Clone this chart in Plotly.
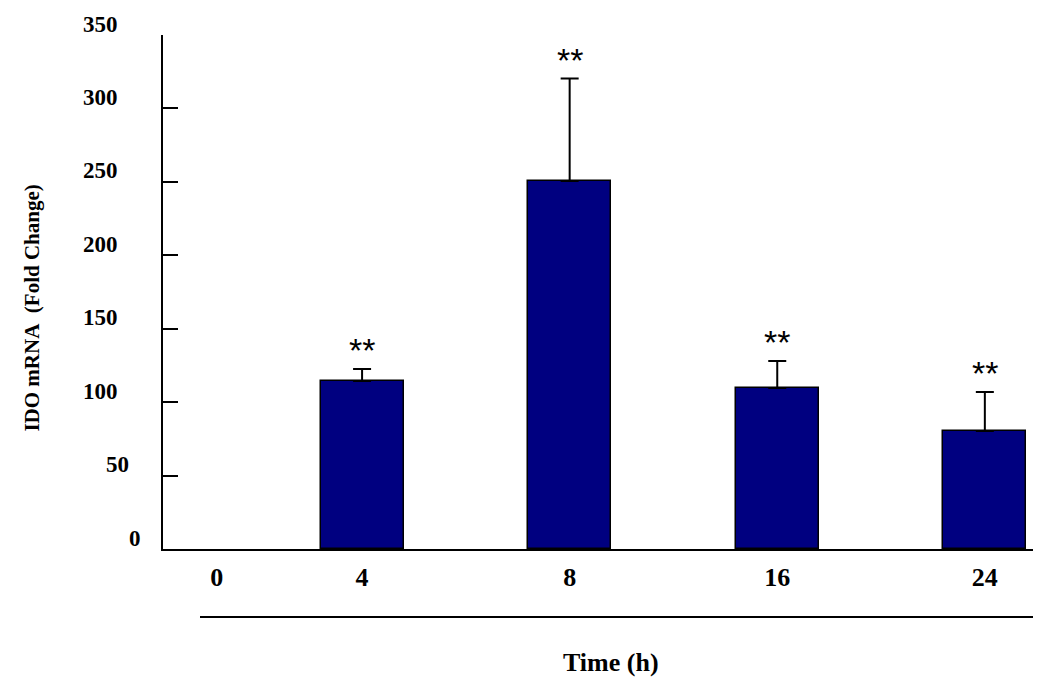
import plotly.graph_objects as go

# ---- data ----
time_labels = ["0", "4", "8", "16", "24"]          # x tick labels (h)
bar_times = ["4", "8", "16", "24"]                 # time points with bars
fold_change = [114.4, 250.6, 109.6, 80.4]          # mean IDO mRNA fold change
fold_error = [8.2, 69.7, 18.4, 26.5]               # upper error (SD/SEM)
significance = ["**", "**", "**", "**"]
y_ticks = [0, 50, 100, 150, 200, 250, 300, 350]

# layout positions (index on the x axis)
tick_pos = [0.3, 1, 2, 3, 4]
bar_pos = [tick_pos[time_labels.index(t)] for t in bar_times]

SERIF = "Liberation Serif, Times New Roman, serif"
SANS = "Liberation Sans, Arial, sans-serif"

fig = go.Figure()
fig.add_trace(go.Bar(
    x=bar_pos, y=fold_change, width=0.4,
    marker=dict(color="#000080", line=dict(color="#000000", width=1.5)),
    error_y=dict(type="data", symmetric=False, array=fold_error,
                 arrayminus=[0] * len(fold_error),
                 color="#000000", thickness=2, width=9),
    showlegend=False, hoverinfo="skip",
))

annotations = []
# significance markers
for xp, v, e, s in zip(bar_pos, fold_change, fold_error, significance):
    annotations.append(dict(x=xp, y=v + e, xref="x", yref="y", text=s,
                            showarrow=False, yanchor="middle", yshift=19,
                            font=dict(family=SANS, size=34, color="black")))

# y tick labels (right edge in px from the axis; slightly irregular like the original)
label_right_px = {0: 143, 50: 131}
for v in y_ticks:
    rp = label_right_px.get(v, 120)
    annotations.append(dict(x=(rp - 163) / 870, y=v, xref="paper", yref="y",
                            text="<b>%d</b>" % v, showarrow=False, xanchor="right",
                            yanchor="middle", yshift=11,
                            font=dict(family=SERIF, size=23, color="black")))

# axis titles
annotations.append(dict(x=-0.151, y=0.469, xref="paper", yref="paper",
                        text="<b>IDO mRNA\u00a0 (Fold Change)</b>", textangle=-90,
                        showarrow=False, xanchor="center", yanchor="middle",
                        font=dict(family=SERIF, size=21, color="black")))
annotations.append(dict(x=0.515, y=-0.22, xref="paper", yref="paper",
                        text="<b>Time (h)</b>", showarrow=False,
                        xanchor="center", yanchor="middle",
                        font=dict(family=SERIF, size=26, color="black")))

fig.update_layout(
    width=1050, height=688,
    margin=dict(l=155, r=25, t=27, b=147),
    paper_bgcolor="white", plot_bgcolor="white",
    annotations=annotations,
    shapes=[dict(type="line", xref="paper", yref="paper",
                 x0=(200 - 163) / 870, x1=1, y0=-0.1323, y1=-0.1323,
                 line=dict(color="black", width=2))],
    bargap=0,
)
fig.update_xaxes(range=[0.041, 4.232], showgrid=False, zeroline=False,
                 showline=True, linecolor="black", linewidth=2,
                 tickmode="array", tickvals=tick_pos,
                 ticktext=["<b>%s</b>" % t for t in time_labels],
                 ticks="", ticklabelstandoff=4,
                 tickfont=dict(family=SERIF, size=26, color="black"))
fig.update_yaxes(range=[0, 350], showgrid=False, zeroline=False,
                 showline=True, linecolor="black", linewidth=2,
                 tickmode="array", tickvals=y_ticks, ticks="inside",
                 ticklen=15, tickwidth=2, tickcolor="black",
                 showticklabels=False)

fig.write_html("out.html")
